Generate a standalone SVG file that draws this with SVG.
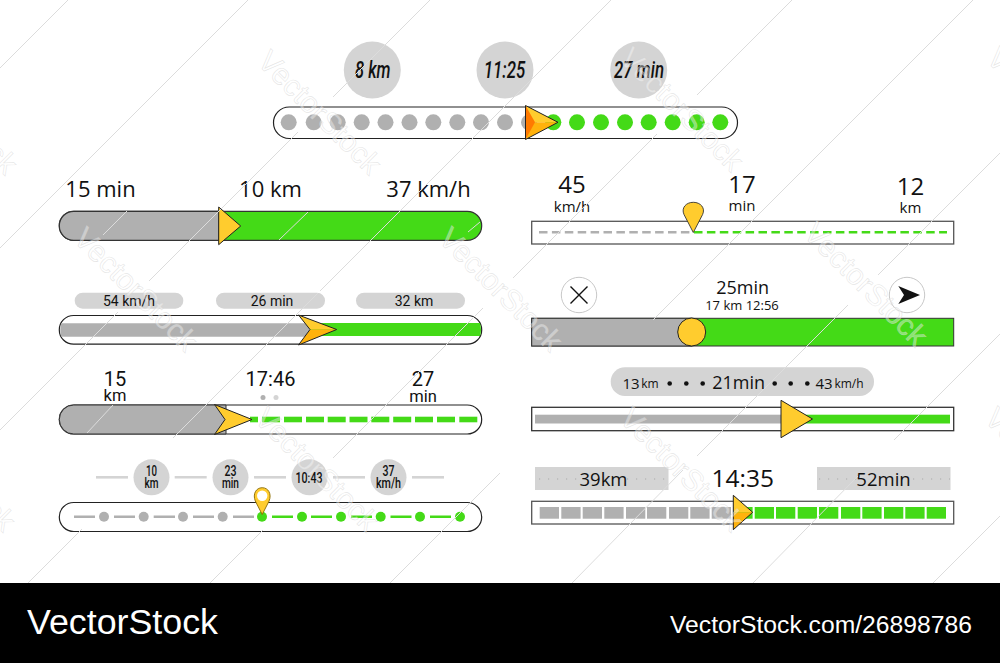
<svg xmlns="http://www.w3.org/2000/svg" width="1000" height="663" viewBox="0 0 1000 663">
<style>
.trk{fill:#fff;stroke:#222;stroke-width:1.2}
.box{fill:#fff;stroke:#555;stroke-width:1.3}
.g{fill:#b0b0b0}.v{fill:#44da17}.p{fill:#d4d4d4}
.ed{stroke:#222;stroke-width:1;stroke-linejoin:round}
.y{fill:#ffcc2e}.o{fill:#ffb20c}.do{fill:#ff7a00}
text{fill:#111;text-anchor:middle}
.os{font-family:"Open Sans","Noto Sans",sans-serif}
.rb{font-family:Roboto,"Noto Sans",sans-serif}
.ci{font-family:Roboto,sans-serif;font-style:italic;font-weight:500;font-size:24px}
.cn{font-family:Roboto,sans-serif;font-weight:500;font-size:15px}
.cs{font-size:14px}
.glin{stroke:#b0b0b0;stroke-width:2.6}.vlin{stroke:#44da17;stroke-width:2.6}
.wl{stroke:#dcdcdc;stroke-width:1;fill:none}
.wm text{font-family:"Liberation Sans",sans-serif;font-size:30px;text-anchor:start;fill:#fff;fill-opacity:.4;stroke:#cfcfcf;stroke-opacity:.55;stroke-width:.6}
.ft{font-family:"Liberation Sans",sans-serif;fill:#fff;text-anchor:start}
</style>
<rect width="1000" height="663" fill="#fff"/>

<g id="widget-top">
<circle class="p" cx="372.3" cy="70" r="28.5"/><circle class="p" cx="505" cy="70" r="28.5"/><circle class="p" cx="638.7" cy="70" r="28.5"/>
<text class="ci" x="372.8" y="78" textLength="35.5" lengthAdjust="spacingAndGlyphs">8 km</text>
<text class="ci" x="504.5" y="78" textLength="41.5" lengthAdjust="spacingAndGlyphs">11:25</text>
<text class="ci" x="639" y="78" textLength="50" lengthAdjust="spacingAndGlyphs">27 min</text>
<rect class="trk" x="273.5" y="107" width="464" height="31.5" rx="15.7"/>
<g class="g"><circle cx="288.7" cy="122.3" r="8"/><circle cx="313.7" cy="122.3" r="8"/><circle cx="337.7" cy="122.3" r="8"/><circle cx="361.7" cy="122.3" r="8"/><circle cx="385.5" cy="122.3" r="8"/><circle cx="409.5" cy="122.3" r="8"/><circle cx="433.3" cy="122.3" r="8"/><circle cx="457.3" cy="122.3" r="8"/><circle cx="481" cy="122.3" r="8"/><circle cx="505" cy="122.3" r="8"/><circle cx="529" cy="122.3" r="8"/></g>
<g class="v"><circle cx="553.3" cy="122.3" r="8"/><circle cx="577" cy="122.3" r="8"/><circle cx="601" cy="122.3" r="8"/><circle cx="625" cy="122.3" r="8"/><circle cx="648.7" cy="122.3" r="8"/><circle cx="672.7" cy="122.3" r="8"/><circle cx="696.7" cy="122.3" r="8"/><circle cx="720.3" cy="122.3" r="8"/></g>
<polygon class="y" points="525.5,105.5 558,122.3 533,122.3"/>
<polygon class="o" points="525.5,139.5 558,122.3 533,122.3"/>
<polygon class="do" points="525.5,105.5 535,122.3 525.5,139.5"/>
<polygon points="525.5,105.5 558,122.3 525.5,139.5" fill="none" class="ed"/>
</g>

<g id="widget-left-1">
<text class="os" x="100.5" y="197" font-size="22">15 min</text>
<text class="os" x="270.5" y="197" font-size="22">10 km</text>
<text class="os" x="428.5" y="197" font-size="22">37 km/h</text>
<rect x="59.3" y="211.3" width="422.4" height="29" rx="14.5" class="v" stroke="#333" stroke-width="1.2"/>
<path d="M219 211.3H73.8a14.5 14.5 0 0 0 0 29H219z" class="g" stroke="#333" stroke-width="1.2"/>
<polygon class="y ed" points="218.7,207 240.7,226 218.7,244.7"/>
</g>

<g id="widget-left-2">
<rect class="p" x="74.7" y="292.7" width="108.6" height="16" rx="8"/><rect class="p" x="216" y="292.7" width="109" height="16" rx="8"/><rect class="p" x="356" y="292.7" width="109" height="16" rx="8"/>
<text class="rb" x="129" y="305.5" font-size="14">54 km/h</text>
<text class="rb" x="272" y="305.5" font-size="14">26 min</text>
<text class="rb" x="414" y="305.5" font-size="14">32 km</text>
<rect class="trk" x="59.3" y="315.5" width="422.4" height="28.7" rx="14.3"/>
<path d="M61 323.3H310V336.7H61Q59.6 330 61 323.3z" class="g"/>
<path d="M310 323H480Q482 330 480 336H310z" class="v"/>
<polygon class="y" points="298.5,315 336.7,329.5 310,329.5"/>
<polygon class="o" points="298.5,345 336.7,329.5 310,329.5"/>
<polygon fill="none" class="ed" points="298.5,315 336.7,329.5 298.5,345 310,329.5"/>
</g>

<g id="widget-left-3">
<text class="rb" x="115" y="386" font-size="20">15</text>
<text class="rb" x="115" y="401" font-size="16.5">km</text>
<text class="rb" x="270.5" y="386" font-size="20">17:46</text>
<text class="rb" x="423" y="386" font-size="20">27</text>
<text class="rb" x="423" y="401.5" font-size="16.5">min</text>
<circle cx="263" cy="397.5" r="2.5" fill="#b0b0b0"/><circle cx="276" cy="397.5" r="2.5" fill="#d4d4d4"/>
<rect class="trk" x="59.3" y="405" width="422.4" height="29" rx="14.5"/>
<path d="M226 405H73.8a14.5 14.5 0 0 0 0 29H226z" class="g" stroke="#333" stroke-width="1"/>
<g class="v"><rect x="250" y="416.7" width="8" height="5.6"/><rect x="262" y="416.7" width="18" height="5.6"/><rect x="284" y="416.7" width="18" height="5.6"/><rect x="306" y="416.7" width="18" height="5.6"/><rect x="327.7" y="416.7" width="18" height="5.6"/><rect x="349.5" y="416.7" width="18" height="5.6"/><rect x="371.3" y="416.7" width="18" height="5.6"/><rect x="393.2" y="416.7" width="18" height="5.6"/><rect x="415" y="416.7" width="18" height="5.6"/><rect x="437" y="416.7" width="18" height="5.6"/><rect x="459.3" y="416.7" width="18" height="5.6"/></g>
<polygon class="y ed" points="214.5,404.5 252,419.5 214.5,434.5 225,419.5"/>
</g>

<g id="widget-left-4">
<g><line class="glin" style="stroke:#d4d4d4" x1="96" y1="477.3" x2="128" y2="477.3"/><line class="glin" style="stroke:#d4d4d4" x1="174.7" y1="477.3" x2="206.7" y2="477.3"/><line class="glin" style="stroke:#d4d4d4" x1="254" y1="477.3" x2="286" y2="477.3"/><line class="glin" style="stroke:#d4d4d4" x1="333" y1="477.3" x2="365" y2="477.3"/><line class="glin" style="stroke:#d4d4d4" x1="412" y1="477.3" x2="444" y2="477.3"/></g>
<circle class="p" cx="151.5" cy="477.3" r="18"/><circle class="p" cx="230.5" cy="477.3" r="18"/><circle class="p" cx="309.5" cy="477.3" r="18"/><circle class="p" cx="388.5" cy="477.3" r="18"/>
<text class="cn cs" x="151.5" y="476" textLength="11" lengthAdjust="spacingAndGlyphs">10</text>
<text class="cn cs" x="151.5" y="488" textLength="14" lengthAdjust="spacingAndGlyphs">km</text>
<text class="cn cs" x="230.5" y="476" textLength="12" lengthAdjust="spacingAndGlyphs">23</text>
<text class="cn cs" x="230.5" y="488" textLength="17" lengthAdjust="spacingAndGlyphs">min</text>
<text class="cn" x="309" y="483" textLength="27" lengthAdjust="spacingAndGlyphs">10:43</text>
<text class="cn cs" x="388.5" y="476" textLength="12" lengthAdjust="spacingAndGlyphs">37</text>
<text class="cn cs" x="388.5" y="488" textLength="25" lengthAdjust="spacingAndGlyphs">km/h</text>
<rect class="trk" x="59.3" y="502.5" width="422.4" height="29" rx="14.5"/>
<path class="glin" d="M74 516.7H95M114 516.7H135M153.7 516.7H175M193 516.7H214M233 516.7H254"/>
<path class="vlin" d="M272 516.7H293M311 516.7H332M351 516.7H372M390.5 516.7H411.5M430 516.7H451"/>
<g class="g"><circle cx="104" cy="516.7" r="5"/><circle cx="143.7" cy="516.7" r="5"/><circle cx="183" cy="516.7" r="5"/><circle cx="222.7" cy="516.7" r="5"/></g>
<g class="v"><circle cx="262" cy="516.7" r="5"/><circle cx="302" cy="516.7" r="5"/><circle cx="341" cy="516.7" r="5"/><circle cx="380.7" cy="516.7" r="5"/><circle cx="420" cy="516.7" r="5"/><circle cx="460" cy="516.7" r="5"/></g>
<path d="M262.2 514.5L255.3 501C252.5 494 256 487.7 262.2 487.7S271.9 494 269.1 501z" class="y" stroke="#8a6a00" stroke-width=".9"/>
<circle cx="262.2" cy="495.7" r="5.2" fill="#fff"/>
</g>

<g id="widget-right-1">
<text class="os" x="572" y="193" font-size="24">45</text>
<text class="os" x="572" y="212" font-size="15">km/h</text>
<text class="os" x="742" y="193" font-size="24">17</text>
<text class="os" x="742" y="211" font-size="15">min</text>
<text class="os" x="910.5" y="195" font-size="24">12</text>
<text class="os" x="910.5" y="213" font-size="15">km</text>
<rect class="box" x="531.7" y="221.3" width="422" height="22.7"/>
<path d="M539 232.3H693" stroke="#b0b0b0" stroke-width="2.6" stroke-dasharray="8.5 4.4" fill="none"/>
<path d="M694 232.3H947" stroke="#44da17" stroke-width="2.6" stroke-dasharray="8.5 4.4" fill="none"/>
<path d="M693.3 232.5L684 214.5C681 208 686 202.3 693.3 202.3S705.6 208 702.6 214.5z" class="y" stroke="#333" stroke-width=".9"/>
</g>

<g id="widget-right-2">
<circle cx="579" cy="295" r="17.7" fill="#fff" stroke="#c8c8c8" stroke-width="1"/>
<path d="M570.5 286.5L587.5 303.5M587.5 286.5L570.5 303.5" stroke="#111" stroke-width="1.4"/>
<circle cx="907" cy="295" r="17.7" fill="#fff" stroke="#c8c8c8" stroke-width="1"/>
<polygon points="898.3,286 920,295 898.3,304 904,295" fill="#111"/>
<text class="os" x="742.7" y="293.5" font-size="18">25min</text>
<text class="os" x="742" y="309.5" font-size="13">17 km 12:56</text>
<rect x="531.7" y="318.3" width="422" height="27.7" class="v" stroke="#333" stroke-width="1"/>
<rect x="531.7" y="318.3" width="160" height="27.7" class="g" stroke="#333" stroke-width="1"/>
<circle class="y ed" cx="691.7" cy="332" r="14"/>
</g>

<g id="widget-right-3">
<rect class="p" x="610.7" y="367.3" width="263.3" height="28.7" rx="14.3"/>
<text class="os" x="631" y="388.5" font-size="15">13</text>
<text class="os" x="650" y="388" font-size="12">km</text>
<text class="os" x="738.7" y="389" font-size="18">21min</text>
<text class="os" x="824" y="388.5" font-size="15">43</text>
<text class="os" x="849" y="388" font-size="12">km/h</text>
<g fill="#111"><circle cx="669.7" cy="383.5" r="2.3"/><circle cx="686.3" cy="383.5" r="2.3"/><circle cx="702.7" cy="383.5" r="2.3"/><circle cx="774.7" cy="383.5" r="2.3"/><circle cx="790.7" cy="383.5" r="2.3"/><circle cx="807.3" cy="383.5" r="2.3"/></g>
<rect class="box" style="stroke:#333" x="531.7" y="407.3" width="422" height="23.4"/>
<rect class="g" x="535" y="414.7" width="250" height="8.8"/>
<rect class="v" x="785" y="414.7" width="165" height="8.8"/>
<polygon class="y ed" points="781,400.3 812.5,419 781,437.7"/>
</g>

<g id="widget-right-4">
<rect class="p" x="535" y="467" width="133.5" height="23"/><rect class="p" x="817" y="467" width="133.5" height="23"/>
<path d="M539 479H580M627 479H668M819 479H860M913 479H950" stroke="#aaa" stroke-width="1.2" stroke-dasharray="1.2 7.8" fill="none"/>
<text class="os" x="603.5" y="486" font-size="18.5">39km</text>
<text class="os" x="883.5" y="486" font-size="18.5">52min</text>
<text class="os" x="742.7" y="487" font-size="24.5">14:35</text>
<rect class="box" x="531.7" y="501.3" width="422" height="22.7"/>
<g class="g"><rect x="539.7" y="507" width="19.3" height="11.7"/><rect x="561.3" y="507" width="19.3" height="11.7"/><rect x="582.7" y="507" width="19.3" height="11.7"/><rect x="604.3" y="507" width="19.3" height="11.7"/><rect x="626" y="507" width="19.3" height="11.7"/><rect x="647" y="507" width="19.3" height="11.7"/><rect x="669" y="507" width="19.3" height="11.7"/><rect x="690.3" y="507" width="19.3" height="11.7"/><rect x="711.7" y="507" width="19.3" height="11.7"/></g>
<g class="v"><rect x="733.3" y="507" width="19.3" height="11.7"/><rect x="754.7" y="507" width="19.3" height="11.7"/><rect x="776" y="507" width="19.3" height="11.7"/><rect x="797.7" y="507" width="19.3" height="11.7"/><rect x="819" y="507" width="19.3" height="11.7"/><rect x="841" y="507" width="19.3" height="11.7"/><rect x="862.3" y="507" width="19.3" height="11.7"/><rect x="884" y="507" width="19.3" height="11.7"/><rect x="905.3" y="507" width="19.3" height="11.7"/><rect x="926.7" y="507" width="19.3" height="11.7"/></g>
<polygon class="y" points="733.3,495.3 752.7,512.3 733.3,512.3"/>
<polygon class="o" points="733.3,529.7 752.7,512.3 733.3,512.3"/>
<polygon fill="none" class="ed" points="733.3,495.3 752.7,512.3 733.3,529.7"/>
</g>

<g id="watermark">
<path class="wl" d="M0 68L68 0M0 248L248 0M333 97L430 0M298 132L149 281M118 312L0 430M433 178L611 0M477 134L320 291M318 293L173 438M82 529L28 583M697 95L792 0M657 134L513 278M483 308L333 458M263 530L210 583M973 0L653 320M500 473L390 583M1000 153L878 275M848 305L697 456M683 470L572 583M1000 334L894 440M858 476L753 583M1000 516L933 583M103 235L127 211M279 240L308 212M87 433L113 405M468 232L480 222"/>
<g class="wm">
<text transform="translate(-108 63) rotate(45)">VectorStock</text>
<text transform="translate(256 63) rotate(45)">VectorStock</text>
<text transform="translate(618 60) rotate(45)">VectorStock</text>
<text transform="translate(985 60) rotate(45)">VectorStock</text>
<text transform="translate(72 240) rotate(45)">VectorStock</text>
<text transform="translate(437 240) rotate(45)">VectorStock</text>
<text transform="translate(802 235) rotate(45)">VectorStock</text>
<text transform="translate(-110 420) rotate(45)">VectorStock</text>
<text transform="translate(253 420) rotate(45)">VectorStock</text>
<text transform="translate(618 420) rotate(45)">VectorStock</text>
<text transform="translate(983 420) rotate(45)">VectorStock</text>
</g>
</g>

<g id="footer">
<rect x="0" y="583" width="1000" height="80" fill="#000"/>
<text class="ft" x="27" y="634" font-size="35.8">VectorStock</text>
<text class="ft" x="670" y="633" font-size="24.7">VectorStock.com/26898786</text>
</g>
</svg>
